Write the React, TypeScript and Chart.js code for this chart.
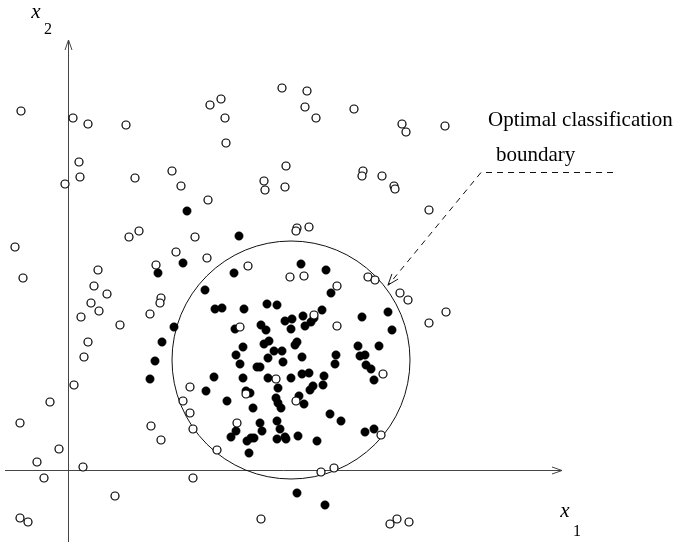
import React, { useEffect, useRef } from "react";
import { Chart, registerables } from "chart.js";

Chart.register(...registerables);

// Data units: origin at the crossing of the x1 / x2 axes
const outsideClass: [number, number][] = [
  [-47, 359], [5, 352], [20, 346], [58, 345], [11, 308], [12, 293], [-3, 286], [67, 292],
  [104, 299], [113, 284], [140, 270], [142, 365], [153, 371], [157, 352], [158, 327],
  [71, 239], [61, 233], [127, 233], [-53, 223], [214, 382], [239, 379], [237, 363],
  [248, 352], [286, 361], [334, 346], [338, 338], [377, 344], [218, 304], [196, 289],
  [197, 280], [217, 283], [295, 299], [294, 294], [314, 294], [326, 284], [327, 281],
  [361, 260], [229, 242], [228, 239], [241, 243], [-45, 192], [30, 200], [26, 184],
  [39, 176], [23, 167], [31, 159], [13, 153], [52, 145], [82, 156], [20, 128], [16, 113],
  [6, 85], [-18, 68], [-48, 47], [83, 44], [-9, 21], [-31, 8], [15, 3], [-24, -8],
  [47, -26], [-48, -48], [-40, -52], [108, 218], [139, 212], [88, 205], [180, 204],
  [222, 193], [236, 194], [269, 184], [93, 172], [92, 167], [172, 143], [246, 155],
  [208, 91], [178, 76], [122, 83], [115, 69], [228, 69], [122, 57], [169, 47], [125, 41],
  [93, 30], [149, 20], [253, -2], [266, 2], [125, -8], [193, -49], [300, 193], [307, 190],
  [332, 177], [340, 170], [378, 158], [361, 147], [269, 144], [315, 96], [313, 35],
  [322, -54], [329, -49], [341, -52],
];

const insideClass: [number, number][] = [
  [119, 259], [171, 234], [115, 207], [90, 197], [166, 197], [233, 206], [258, 200],
  [263, 177], [137, 180], [106, 143], [147, 161], [154, 162], [176, 161], [199, 166],
  [209, 165], [94, 128], [87, 109], [82, 91], [167, 141], [193, 145], [198, 140],
  [217, 149], [224, 151], [223, 141], [235, 154], [237, 144], [243, 148], [246, 152],
  [254, 160], [175, 123], [196, 126], [201, 129], [227, 125], [229, 128], [168, 115],
  [172, 106], [200, 112], [206, 119], [214, 119], [215, 108], [234, 113], [268, 115],
  [267, 106], [146, 93], [175, 92], [189, 103], [192, 103], [200, 92], [223, 92],
  [234, 96], [241, 97], [256, 94], [255, 85], [245, 84], [242, 80], [210, 82], [138, 79],
  [178, 79], [182, 77], [159, 69], [208, 72], [210, 67], [213, 62], [231, 74], [236, 66],
  [185, 62], [262, 56], [273, 49], [192, 47], [194, 39], [209, 49], [212, 41], [168, 39],
  [163, 33], [179, 29], [183, 32], [186, 32], [209, 31], [217, 33], [218, 31], [230, 34],
  [249, 29], [181, 17], [229, -23], [257, -35], [294, 153], [320, 158], [324, 140],
  [290, 124], [311, 124], [292, 114], [297, 115], [298, 105], [303, 101], [306, 90],
  [297, 38], [306, 41],
];

// Optimal boundary: circle centre and radius (data units)
const boundaryCenter: [number, number] = [223, 110];
const boundaryRadius = 119;

// Axes extents
const xAxisRange: [number, number] = [-63, 494];
const yAxisRange: [number, number] = [-72, 430];

// Annotation
const annotationText = ["Optimal classification", "boundary"];
const annotationPath: [number, number][] = [[545, 298], [413, 298], [320, 185]];

export default function App() {
  const ref = useRef<HTMLCanvasElement | null>(null);

  useEffect(() => {
    if (!ref.current) return;

    const drawArrow = (
      ctx: CanvasRenderingContext2D,
      fx: number, fy: number, tx: number, ty: number,
      len: number, half: number
    ) => {
      const a = Math.atan2(ty - fy, tx - fx);
      const bx = tx - len * Math.cos(a);
      const by = ty - len * Math.sin(a);
      const px = -Math.sin(a) * half;
      const py = Math.cos(a) * half;
      ctx.beginPath();
      ctx.moveTo(bx + px, by + py);
      ctx.lineTo(tx, ty);
      ctx.lineTo(bx - px, by - py);
      ctx.stroke();
    };

    const decor = {
      id: "decor",
      beforeDatasetsDraw(chart: any) {
        const ctx: CanvasRenderingContext2D = chart.ctx;
        const xs = chart.scales.x;
        const ys = chart.scales.y;
        const X = (v: number) => xs.getPixelForValue(v);
        const Y = (v: number) => ys.getPixelForValue(v);
        ctx.save();
        // axes
        ctx.strokeStyle = "#444";
        ctx.lineWidth = 1;
        ctx.setLineDash([]);
        ctx.beginPath();
        ctx.moveTo(X(xAxisRange[0]), Y(0) + 0.5);
        ctx.lineTo(X(xAxisRange[1]), Y(0) + 0.5);
        ctx.moveTo(X(0) + 0.5, Y(yAxisRange[0]));
        ctx.lineTo(X(0) + 0.5, Y(yAxisRange[1]));
        ctx.stroke();
        drawArrow(ctx, X(xAxisRange[0]), Y(0) + 0.5, X(xAxisRange[1]), Y(0) + 0.5, 10, 3.5);
        drawArrow(ctx, X(0) + 0.5, Y(yAxisRange[0]), X(0) + 0.5, Y(yAxisRange[1]), 10, 3.5);

        // boundary circle
        ctx.strokeStyle = "#111";
        ctx.lineWidth = 1;
        const cx = X(boundaryCenter[0]);
        const cy = Y(boundaryCenter[1]);
        const r = Math.abs(X(boundaryCenter[0] + boundaryRadius) - cx);
        ctx.beginPath();
        ctx.arc(cx, cy, r, 0, Math.PI * 2);
        ctx.stroke();

        // annotation dashed leader
        ctx.setLineDash([6, 5]);
        ctx.beginPath();
        annotationPath.forEach((p, i) => {
          if (i === 0) ctx.moveTo(X(p[0]), Y(p[1]) + 0.5);
          else ctx.lineTo(X(p[0]), Y(p[1]) + 0.5);
        });
        ctx.stroke();
        ctx.setLineDash([]);
        const n = annotationPath.length;
        drawArrow(
          ctx,
          X(annotationPath[n - 2][0]), Y(annotationPath[n - 2][1]),
          X(annotationPath[n - 1][0]), Y(annotationPath[n - 1][1]),
          11, 4
        );

        // texts
        ctx.fillStyle = "#000";
        ctx.textBaseline = "middle";
        ctx.textAlign = "left";
        ctx.font = '21px "Liberation Serif", "DejaVu Serif", serif';
        ctx.fillText(annotationText[0], X(420), Y(350));
        ctx.fillText(annotationText[1], X(428), Y(315));

        ctx.textAlign = "center";
        ctx.font = 'italic 21px "Liberation Serif", serif';
        ctx.fillText("x", X(-32), Y(458));
        ctx.fillText("x", X(497), Y(-41));
        ctx.font = '16px "Liberation Serif", serif';
        ctx.fillText("2", X(-20), Y(440));
        ctx.fillText("1", X(509), Y(-62));
        ctx.restore();
      },
    };

    const chart = new Chart(ref.current, {
      type: "scatter",
      data: {
        datasets: [
          {
            label: "outside",
            data: outsideClass.map(([x, y]) => ({ x, y })),
            pointStyle: "circle",
            pointRadius: 4,
            pointBackgroundColor: "#fff",
            pointBorderColor: "#000",
            pointBorderWidth: 1.2,
          },
          {
            label: "inside",
            data: insideClass.map(([x, y]) => ({ x, y })),
            pointStyle: "circle",
            pointRadius: 4.2,
            pointBackgroundColor: "#000",
            pointBorderColor: "#000",
            pointBorderWidth: 0.5,
          },
        ],
      },
      options: {
        animation: false,
        responsive: false,
        devicePixelRatio: 1,
        layout: { padding: 0, autoPadding: false } as any,
        scales: {
          x: { type: "linear", min: -68, max: 608, display: false },
          y: { type: "linear", min: -75, max: 470, display: false },
        },
        plugins: {
          legend: { display: false },
          tooltip: { enabled: false },
        },
        events: [],
      },
      plugins: [decor],
    });
    return () => chart.destroy();
  }, []);

  return (
    <div style={{ position: "fixed", left: 0, top: 0, width: 676, height: 545, background: "#fff" }}>
      <canvas ref={ref} width={676} height={545} style={{ display: "block" }} />
    </div>
  );
}
